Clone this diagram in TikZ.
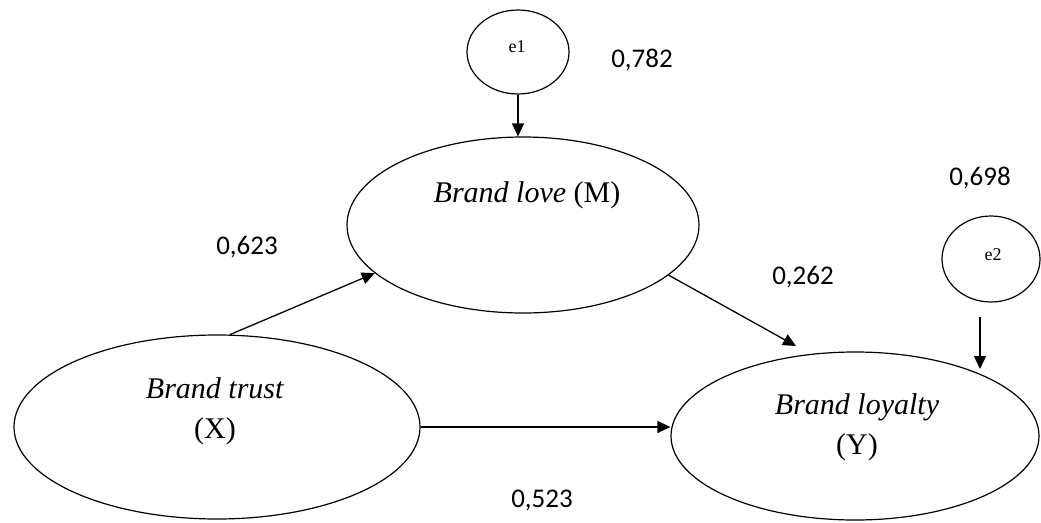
\documentclass[tikz,border=0pt]{standalone}
\usepackage{fontspec}
\setmainfont{Liberation Serif}
\newfontfamily\numfont{Carlito}
\usetikzlibrary{shapes.geometric,arrows.meta}
\tikzset{
  construct/.style={draw, ellipse, line width=1.2pt, inner sep=0pt},
  errterm/.style={draw, ellipse, line width=1.2pt, inner sep=0pt, minimum width=102pt, minimum height=84pt},
  ctext/.style={align=center, font=\fontsize{30}{40}\selectfont},
  etext/.style={font=\fontsize{18}{20}\selectfont},
  coef/.style={font=\numfont\fontsize{27}{30}\selectfont},
  path/.style={line width=1.3pt, -{Triangle[length=13pt,width=12pt]}}
}
\begin{document}
\begin{tikzpicture}[x=1pt,y=-1pt]
\useasboundingbox (0,0) rectangle (1041,522);
% constructs
\node[construct, minimum width=406pt, minimum height=184pt] (X) at (217,427) {};
\node[construct, minimum width=352pt, minimum height=176pt] (M) at (523,225) {};
\node[construct, minimum width=368pt, minimum height=168pt] (Y) at (855,436) {};
\node[errterm] (e1) at (518,52) {};
\node[errterm, minimum width=98pt, minimum height=86pt] (e2) at (991,259) {};
% texts
\node[ctext] (tX) at (215,411) {\textit{Brand trust}\\(X)};
\node[ctext] (tM) at (527,195) {\textit{Brand love} (M)};
\node[ctext] (tY) at (857,427) {\textit{Brand loyalty}\\(Y)};
\node[etext] (te1) at (517,47) {e1};
\node[etext] (te2) at (993,255) {e2};
% coefficients
\node[coef] (c1) at (642,60) {0,782};
\node[coef] (c2) at (980,178) {0,698};
\node[coef] (c3) at (247,247) {0,623};
\node[coef] (c4) at (803,277) {0,262};
\node[coef] (c5) at (542,500) {0,523};
% connectors
\coordinate (e2s) at (980,317);
\coordinate (e2t) at (980,369);
\coordinate (MYt) at (796,346);
\draw[path] (e1.south) -- (e1.south |- M.north);
\draw[path] (X.82) -- (M.198);
\draw[path] (M.341) -- (MYt);
\draw[path] (X.east) -- (X.east -| Y.west);
\draw[path] (e2s) -- (e2t);
\end{tikzpicture}
\end{document}
